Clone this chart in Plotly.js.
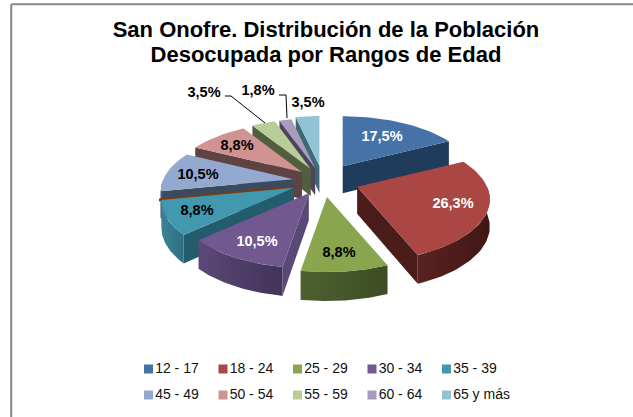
<!DOCTYPE html>
<html><head><meta charset="utf-8">
<script src="https://cdn.plot.ly/plotly-3.0.1.min.js"></script>
<style>html,body{margin:0;padding:0;background:#fff}#c{width:633px;height:417px}</style>
</head><body><div id="c"></div>
<script>
const titleText = 'San Onofre. Distribución de la Población<br>Desocupada por Rangos de Edad';
const categories = ['12 - 17','18 - 24','25 - 29','30 - 34','35 - 39','40 - 44','45 - 49','50 - 54','55 - 59','60 - 64','65 y más'];
const values = [17.5,26.3,8.8,10.5,8.8,0,10.5,8.8,3.5,1.8,3.5];
const valueLabels = ['17,5%','26,3%','8,8%','10,5%','8,8%','','10,5%','8,8%','3,5%','1,8%','3,5%'];
const labelColors = ['#fff','#fff','#000','#fff','#000','#000','#000','#000','#000','#000','#000'];
const labelX = [382,453,339,257,197,0,198,237,204,258,308];
const labelY = [137,204,253,242,211,0,175,146,93,91,103];
const explode = [.29,.28,.27,.23,.25,.245,.23,.22,.22,.22,.25];
const topColors = ['#4573a7','#aa4643','#89a54e','#71588f','#4198af','#7a3c10','#93a9cf','#d19392','#b9cd96','#a99bbd','#92c3d4'];
const wallColors= ['#1f3c5c','#4a1c1a','#46572a','#5a4878','#235c6c','#6b3410','#3c4a5e','#5f4242','#525f3f','#4d4560','#3f6a75'];
const arcLeft   = ['#26466b','#5a2220','#4d6030','#5c4878','#3c8398','#6b3410','#4e6082','#6b4a4a','#5a6845','#55496a','#45737f'];
const arcRight  = ['#1f3c5c','#401715','#3e4d24','#423358','#2d6e82','#6b3410','#3c4a5e','#5f4242','#525f3f','#4d4560','#3f6a75'];
const legendOrder = [0,1,2,3,4,6,7,8,9,10];

const CX=323, CY=181, A=130, B=60, P=0.2, DEPTH=27;
const total = values.reduce((a,b)=>a+b,0);
const rad = d=>d*Math.PI/180;
function proj(th){const u=Math.sin(th),v=-Math.cos(th),s=1/(1-P*v);return {x:A*u*s,y:B*v*s,v};}

let acc=0; const slices=[];
values.forEach((val,i)=>{
  const t0=rad(acc/total*360); acc+=val; const t1=rad(acc/total*360);
  const mid=(t0+t1)/2, u=Math.sin(mid), v=-Math.cos(mid);
  const ax=CX+explode[i]*A*u, ay=CY+explode[i]*B*v;
  slices.push({i,t0,t1,mid,v,ax,ay});
});
slices.sort((a,b)=>a.v-b.v);

const traces=[];
function poly(xs,ys,color,grad){
  const t={x:xs,y:ys,mode:'lines',line:{width:0},fill:'toself',fillcolor:color,hoverinfo:'skip',showlegend:false,type:'scatter'};
  if(grad) t.fillgradient={type:'horizontal',colorscale:[[0,grad[0]],[1,grad[1]]]};
  traces.push(t);
}
const dep=(v)=>DEPTH+2*v;
slices.forEach(s=>{
  const i=s.i;
  const pt=t=>{const p=proj(t);return {x:s.ax+p.x,y:s.ay+p.y,d:dep(p.v)};};
  if(values[i]===0){
    const p=pt(s.t0);
    poly([s.ax,p.x,p.x,s.ax],[s.ay+2.5,p.y+2.5,p.y+5.5,s.ay+5.5],topColors[i]);
    return;
  }
  const mp=pt(s.mid);
  const inner={x:(s.ax+mp.x)/2,y:(s.ay+mp.y)/2};
  [s.t0,s.t1].forEach(t=>{
    const p=pt(t);
    if(Math.abs(p.x-s.ax)<1) return;
    const yl=s.ay+(p.y-s.ay)*(inner.x-s.ax)/(p.x-s.ax);
    if(inner.y<yl) poly([s.ax,p.x,p.x,s.ax],[s.ay,p.y,p.y+p.d,s.ay+DEPTH],wallColors[i]);
  });
  const a0=Math.max(s.t0,rad(90)), a1=Math.min(s.t1,rad(270));
  if(a1>a0){
    const up=[],lo=[];
    for(let k=0;k<=40;k++){const p=pt(a0+(a1-a0)*k/40);up.push(p);lo.unshift({x:p.x,y:p.y+p.d});}
    const arc=up.concat(lo);
    poly(arc.map(p=>p.x),arc.map(p=>p.y),arcLeft[i],[arcLeft[i],arcRight[i]]);
  }
  const xs=[s.ax],ys=[s.ay];
  for(let k=0;k<=40;k++){const p=pt(s.t0+(s.t1-s.t0)*k/40);xs.push(p.x);ys.push(p.y);}
  xs.push(s.ax);ys.push(s.ay);
  poly(xs,ys,topColors[i]);
});

const leaderA={x:[225,231,265],y:[96,96,123]};
const leaderB={x:[279,286,287],y:[95,95,118]};
[leaderA,leaderB].forEach(l=>traces.push({x:l.x,y:l.y,mode:'lines',line:{color:'#000',width:1},hoverinfo:'skip',showlegend:false,type:'scatter'}));

const idx=categories.map((_,i)=>i).filter(i=>valueLabels[i]);
traces.push({x:idx.map(i=>labelX[i]),y:idx.map(i=>labelY[i]),text:idx.map(i=>valueLabels[i]),mode:'text',
  textposition:'middle center',textfont:{family:'Liberation Sans, Arial, sans-serif',size:14.5,color:idx.map(i=>labelColors[i]),weight:700},
  hoverinfo:'skip',showlegend:false,type:'scatter'});

const LX=148.5,LDX=74.5,LY=[369,395];
traces.push({x:legendOrder.map((_,k)=>LX+LDX*(k%5)),y:legendOrder.map((_,k)=>LY[Math.floor(k/5)]),
  text:legendOrder.map(i=>categories[i]),mode:'markers+text',textposition:'middle right',
  marker:{symbol:'square',size:9,color:legendOrder.map(i=>topColors[i])},
  textfont:{family:'Liberation Sans, Arial, sans-serif',size:14,color:'#111'},hoverinfo:'skip',showlegend:false,type:'scatter'});

Plotly.newPlot('c',traces,{
  width:633,height:417,margin:{l:0,r:0,t:0,b:0},paper_bgcolor:'#fff',plot_bgcolor:'#fff',showlegend:false,
  title:{text:titleText,font:{family:'Liberation Sans, Arial, sans-serif',size:22,color:'#000',weight:700},x:0.515,xanchor:'center',y:0.912,yanchor:'middle'},
  xaxis:{range:[0,633],visible:false,fixedrange:true},
  yaxis:{range:[417,0],visible:false,fixedrange:true},
  shapes:[{type:'line',xref:'paper',yref:'paper',x0:0.0177,x1:0.0177,y0:0,y1:0.99,line:{color:'#868686',width:2}},
          {type:'line',xref:'paper',yref:'paper',x0:0.0177,x1:1,y0:0.99,y1:0.99,line:{color:'#868686',width:2}}]
},{staticPlot:true,displayModeBar:false}).then(gd=>{
  const lines=gd.querySelectorAll('.gtitle .line');
  if(lines.length===2) lines[1].setAttribute('dy','25px');
});
</script></body></html>
